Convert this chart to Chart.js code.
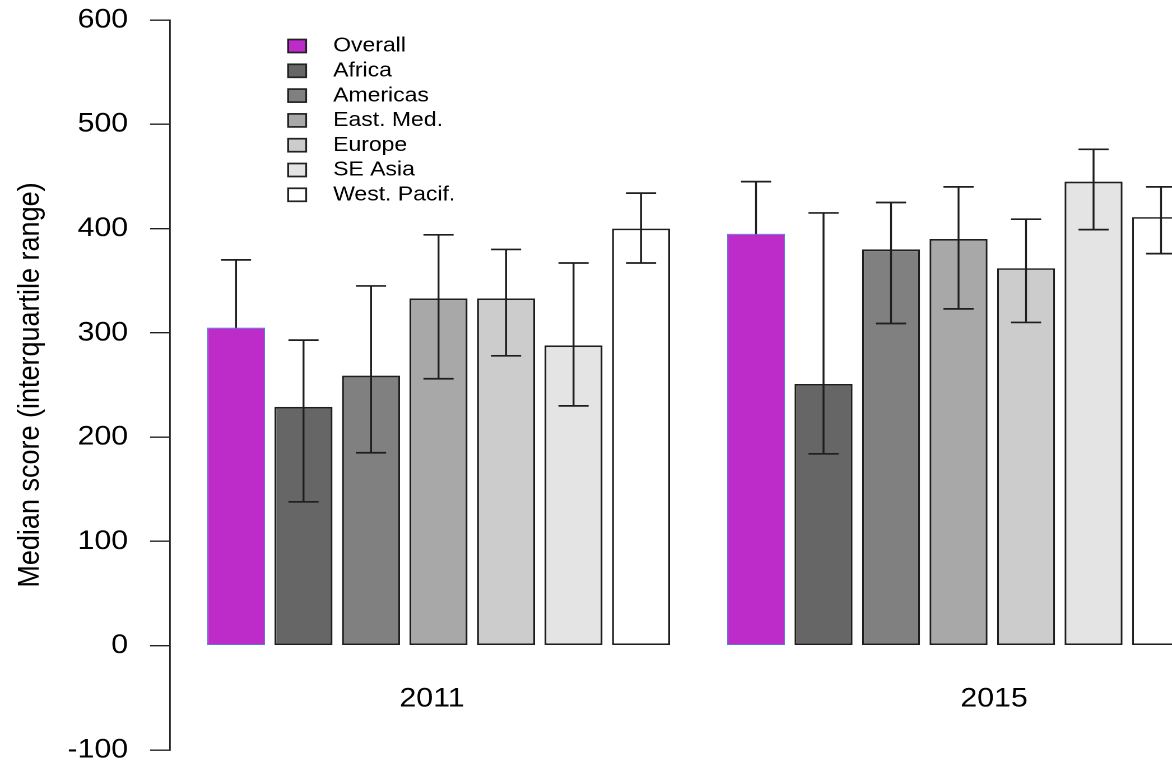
<!DOCTYPE html>
<html>
<head>
<meta charset="utf-8">
<title>Median score by region</title>
<script src="https://cdn.jsdelivr.net/npm/chart.js@4.4.1/dist/chart.umd.min.js"></script>
<style>
  html, body { margin: 0; padding: 0; background: #fff; overflow: hidden; }
  #c { display: block; width: 1172px; height: 763px; }
</style>
</head>
<body>
<canvas id="c"></canvas>
<script>
// values
const years = [2011, 2015];
const regions = ['Overall', 'Africa', 'Americas', 'East. Med.', 'Europe', 'SE Asia', 'West. Pacif.'];
const median2011 = [305, 229, 259, 333, 333, 288, 400];
const median2015 = [395, 251, 380, 390, 362, 445, 411];
const q1_2011 = [235, 138, 185, 256, 278, 230, 367];
const q1_2015 = [340, 184, 309, 323, 310, 399, 376];
const q3_2011 = [370, 293, 345, 394, 380, 367, 434];
const q3_2015 = [445, 415, 425, 440, 409, 476, 440];
const yTicks = [-100, 0, 100, 200, 300, 400, 500, 600];

const colors = ['#bd2bc9', '#666666', '#808080', '#a8a8a8', '#cccccc', '#e4e4e4', '#ffffff'];
const FONT = '"Liberation Sans", Arial, sans-serif';

// the picture is a bit wider than tall, so draw narrower and stretch the canvas
const SX = 1.12;
const W = Math.round(1172 / SX);
const canvas = document.getElementById('c');
canvas.width = W;
canvas.height = 763;
canvas.style.width = '1172px';
canvas.style.height = '763px';

const medians = [median2011, median2015];
const q1s = [q1_2011, q1_2015];
const q3s = [q3_2011, q3_2015];

const datasets = regions.map((name, k) => ({
  label: name,
  data: years.map((yr, j) => ({ x: yr, y: medians[j][k] })),
  q1: years.map((yr, j) => q1s[j][k]),
  q3: years.map((yr, j) => q3s[j][k]),
  backgroundColor: colors[k],
  borderColor: k === 0 ? '#5a78d8' : '#1e1e1e',
  borderWidth: k === 0 ? 1 : 1.7,
  borderSkipped: false,
  categoryPercentage: 0.9087,
  barPercentage: 0.859
}));

function drawErrors(chart, behind) {
  const { ctx, chartArea, scales: { y } } = chart;
  ctx.save();
  ctx.beginPath();
  ctx.rect(chartArea.left, chartArea.top, chartArea.width, chartArea.height);
  ctx.clip();
  ctx.strokeStyle = '#1e1e1e';
  ctx.lineWidth = 1.7;
  chart.data.datasets.forEach((ds, k) => {
    // the Overall bars sit on top of their whiskers
    if ((k === 0) !== behind) return;
    chart.getDatasetMeta(k).data.forEach((bar, j) => {
      const x = bar.x, half = bar.width * 0.26;
      const lo = y.getPixelForValue(ds.q1[j]);
      const hi = y.getPixelForValue(ds.q3[j]);
      ctx.beginPath();
      ctx.moveTo(x, lo); ctx.lineTo(x, hi);
      ctx.moveTo(x - half, lo); ctx.lineTo(x + half, lo);
      ctx.moveTo(x - half, hi); ctx.lineTo(x + half, hi);
      ctx.stroke();
    });
  });
  ctx.restore();
}

const errorBars = {
  id: 'errorBars',
  beforeDatasetsDraw(chart) { drawErrors(chart, true); },
  afterDatasetsDraw(chart) { drawErrors(chart, false); }
};

// legend and year labels sit inside the plot, like the R original
const LEG = { boxX: 288 / SX, boxW: 18 / SX, boxH: 13, textX: 333 / SX, top: 46, row: 24.8 };
const YEAR_SHIFT = [-6.5 / SX, 35.5 / SX];

const overlays = {
  id: 'overlays',
  afterDraw(chart) {
    const { ctx, scales: { x } } = chart;
    ctx.save();
    ctx.textBaseline = 'middle';
    ctx.font = '20.5px ' + FONT;
    chart.data.datasets.forEach((ds, k) => {
      const yc = LEG.top + k * LEG.row;
      ctx.fillStyle = ds.backgroundColor;
      ctx.fillRect(LEG.boxX, yc - LEG.boxH / 2, LEG.boxW, LEG.boxH);
      ctx.strokeStyle = '#222';
      ctx.lineWidth = 1.7;
      ctx.strokeRect(LEG.boxX, yc - LEG.boxH / 2, LEG.boxW, LEG.boxH);
      ctx.fillStyle = '#000';
      ctx.textAlign = 'left';
      ctx.fillText(ds.label, LEG.textX, yc);
    });
    ctx.font = '27px ' + FONT;
    ctx.textAlign = 'center';
    years.forEach((yr, j) => {
      ctx.fillText(String(yr), x.getPixelForValue(yr) + YEAR_SHIFT[j], 699);
    });
    ctx.restore();
  }
};

new Chart(canvas, {
  type: 'bar',
  data: { datasets },
  plugins: [errorBars, overlays],
  options: {
    responsive: false,
    devicePixelRatio: 2,
    animation: false,
    layout: { padding: { left: 0, right: 0, top: 20, bottom: 13 } },
    plugins: { legend: { display: false }, tooltip: { enabled: false } },
    scales: {
      x: {
        type: 'linear',
        offset: false,
        min: 2008.935,
        max: 2016.642,
        ticks: { display: false },
        grid: { display: false },
        border: { display: false },
        afterBuildTicks: s => { s.ticks = years.map(v => ({ value: v })); },
        afterFit: s => { s.height = 0; s.paddingLeft = 0; s.paddingRight = 0; }
      },
      y: {
        min: -100,
        max: 600,
        afterBuildTicks: s => { s.ticks = yTicks.map(v => ({ value: v })); },
        ticks: { color: '#000', padding: 22 / SX, font: { family: FONT, size: 27 } },
        grid: { drawOnChartArea: false, drawTicks: true, tickLength: 20 / SX, color: '#222', lineWidth: 1.4 },
        border: { display: true, color: '#222', width: 1.4 },
        title: {
          display: true,
          text: 'Median score (interquartile range)',
          color: '#000',
          font: { family: FONT, size: 27 },
          padding: { top: 10.6, bottom: 0 }
        },
        afterFit: s => { s.width = 170 / SX; s.paddingTop = 0; s.paddingBottom = 0; }
      }
    }
  }
});
</script>
</body>
</html>
